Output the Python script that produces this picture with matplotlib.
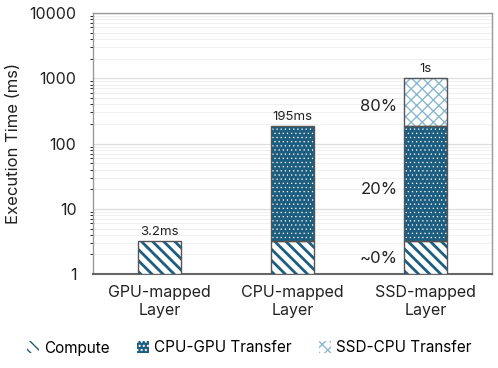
import matplotlib
matplotlib.use("Agg")
import matplotlib.pyplot as plt
import numpy as np
from matplotlib.patches import Patch

plt.rcParams['font.family'] = ['Inter', 'DejaVu Sans']

categories = ["GPU-mapped\nLayer", "CPU-mapped\nLayer", "SSD-mapped\nLayer"]
compute = [3.2, 3.2, 3.2]
cpu_gpu = [0, 182, 182]
ssd_cpu = [0, 0, 815]
top_labels = ["3.2ms", "195ms", "1s"]
pct_labels = ["~0%", "20%", "80%"]
series_names = ["Compute", "CPU-GPU Transfer", "SSD-CPU Transfer"]

teal = "#1d5e80"
light = "#8ab8cf"
edge = "#555555"

fig = plt.figure(figsize=(4.98, 3.68), dpi=100)
ax = fig.add_axes([0.187, 0.255, 0.801, 0.71])
ax.set_yscale('log')
ax.set_ylim(1, 10000)
ax.set_xlim(-0.5, 2.5)
x = np.arange(len(categories))
w = 0.32

c = np.array(compute); g = np.array(cpu_gpu); s = np.array(ssd_cpu)

plt.rcParams['hatch.linewidth'] = 2.0
ax.bar(x, c - 1, w, bottom=1, color='white', edgecolor=teal, hatch='\\\\\\', linewidth=0, zorder=3)
h_compute = Patch(facecolor='white', edgecolor=teal, hatch='\\\\\\', linewidth=0)
plt.rcParams['hatch.linewidth'] = 0.4
ax.bar(x, g, w, bottom=c, color=teal, edgecolor='white', hatch='....', linewidth=0, zorder=3)
h_cg = Patch(facecolor=teal, edgecolor='white', hatch='....', linewidth=0)
plt.rcParams['hatch.linewidth'] = 1.0
ax.bar(x, s, w, bottom=c + g, color='white', edgecolor=light, hatch='xxx', linewidth=0, zorder=3)
h_sc = Patch(facecolor='white', edgecolor=light, hatch='xxx', linewidth=0)
# outlines
for vals, bots in [(c - 1, np.ones(3)), (g, c), (s, c + g)]:
    mask = vals > 0
    ax.bar(x[mask], vals[mask], w, bottom=bots[mask], fill=False, edgecolor=edge, linewidth=1.0, zorder=4)

totals = c + g + s
for xi, t, lab in zip(x, totals, top_labels):
    ax.text(xi, t * 1.12, lab, ha='center', va='bottom', fontsize=9.5, color='#222222')

mids = [np.sqrt(1 * c[2]) * 0.97, np.sqrt(c[2] * (c[2] + g[2])) * 0.8, np.sqrt((c[2] + g[2]) * totals[2]) * 0.85]
for m, lab in zip(mids, pct_labels):
    ax.text(x[2] - w / 2 - 0.05, m, lab, ha='right', va='center', fontsize=12, color='#222222')

ax.set_yticks([1, 10, 100, 1000, 10000])
ax.set_yticklabels(["1", "10", "100", "1000", "10000"])
ax.set_xticks(x)
ax.set_xticklabels(categories, fontsize=11.5, color='#222222')
ax.tick_params(axis='y', labelsize=11.5, length=0, pad=12, colors='#222222')
ax.tick_params(axis='x', length=0, pad=8)
ax.set_ylabel("Execution Time (ms)", fontsize=12, color='#222222', labelpad=6)

ax.grid(True, which='major', axis='y', color='#dddddd', linewidth=0.9, zorder=0)
ax.grid(True, which='minor', axis='y', color='#f0f0f0', linewidth=0.7, zorder=0)
for sp in ['top', 'right', 'left']:
    ax.spines[sp].set_color('#999999')
    ax.spines[sp].set_linewidth(1.0)
ax.spines['bottom'].set_color('#666666')
ax.spines['bottom'].set_linewidth(1.5)

fig.legend([h_compute, h_cg, h_sc], series_names, loc='center', bbox_to_anchor=(0.5, 1 - 348 / 368), ncol=3,
           frameon=False, fontsize=11, handlelength=0.8, handleheight=0.8, handletextpad=0.3,
           columnspacing=1.8)

fig.savefig("out.png", dpi=100)
